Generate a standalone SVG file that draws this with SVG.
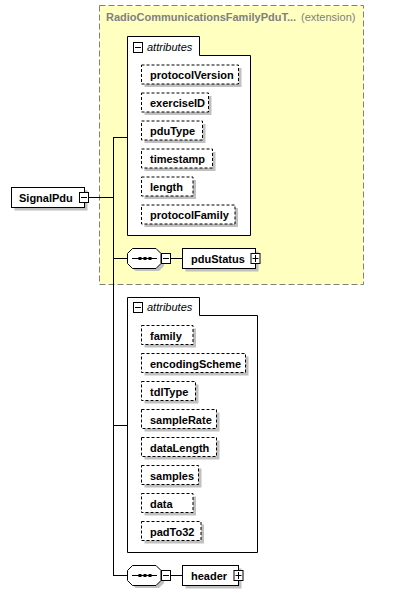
<svg xmlns="http://www.w3.org/2000/svg" width="405" height="595" viewBox="0 0 405 595">
<defs>
<style>
.lbl{font-family:"Liberation Sans",Arial,sans-serif;font-size:11px;font-weight:bold;fill:#000}
.it{font-family:"Liberation Sans",Arial,sans-serif;font-size:11px;font-style:italic;fill:#000}
.ttl{font-family:"Liberation Sans",Arial,sans-serif;font-size:11px;font-weight:bold;fill:#808080}
.ext{font-family:"Liberation Sans",Arial,sans-serif;font-size:11px;fill:#808080}
.att{fill:#fff;stroke:#000;stroke-width:1;stroke-dasharray:3,2}
.box{fill:#fff;stroke:#000;stroke-width:1}
.sh{fill:#c0c0c0}
.ln{stroke:#000;stroke-width:1;fill:none}
</style>
<g id="minus"><rect x="0.5" y="0.5" width="9" height="10" fill="#fff" stroke="#000"/><line x1="2" y1="5.5" x2="8" y2="5.5" stroke="#000"/></g>
<g id="plus"><rect x="0.5" y="0.5" width="9" height="10" fill="#fff" stroke="#000"/><line x1="2" y1="5.5" x2="8" y2="5.5" stroke="#000"/><line x1="5" y1="2" x2="5" y2="9" stroke="#000"/></g>
<g id="seq">
<polygon points="8,3 31.5,3 36.5,8 36.5,18 31.5,23 8,23 3,18 3,8" class="sh"/>
<polygon points="5,0.5 28.5,0.5 33.5,5.5 33.5,15.5 28.5,20.5 5,20.5 0,15.5 0,5.5" class="box"/>
<line x1="4.5" y1="10.5" x2="29.5" y2="10.5" stroke="#000"/>
<rect x="11" y="9" width="3" height="3" fill="#000"/><rect x="16" y="9" width="3" height="3" fill="#000"/><rect x="21" y="9" width="3" height="3" fill="#000"/>
</g>
</defs>
<rect width="405" height="595" fill="#fff"/>

<g id="extension">
<rect x="99.5" y="5.5" width="264" height="279" fill="#ffffc0" stroke="#808080" stroke-dasharray="6,3"/>
<text x="106" y="21" class="ttl">RadioCommunicationsFamilyPduT...</text>
<text x="301" y="21" class="ext">(extension)</text>
</g>

<g id="connectors">
<line x1="88.5" y1="197.5" x2="113.5" y2="197.5" class="ln"/>
<line x1="113.5" y1="137" x2="113.5" y2="576" class="ln"/>
<line x1="113" y1="137.5" x2="127.5" y2="137.5" class="ln"/>
<line x1="113" y1="258.5" x2="127.5" y2="258.5" class="ln"/>
<line x1="113" y1="425.5" x2="127.5" y2="425.5" class="ln"/>
<line x1="113" y1="575.5" x2="127.5" y2="575.5" class="ln"/>
<line x1="171" y1="258.5" x2="182.5" y2="258.5" class="ln"/>
<line x1="171" y1="575.5" x2="182.5" y2="575.5" class="ln"/>
</g>

<g id="SignalPdu">
<rect x="14.5" y="190.5" width="73" height="20" class="sh"/>
<rect x="11.5" y="187.5" width="73" height="20" class="box"/>
<text x="19" y="202" class="lbl">SignalPdu</text>
<use href="#minus" x="79" y="192"/>
</g>

<g id="attributes1">
<path d="M127.5,36.5 H199.5 V55.5 H250.5 V235.5 H127.5 Z" class="box"/>
<use href="#minus" x="133" y="42"/>
<text x="147" y="51" class="it">attributes</text>
</g>

<g id="protocolVersion"><rect x="144.5" y="68" width="97" height="19" class="sh"/><rect x="141.5" y="65" width="97" height="19" class="att"/><text x="150" y="79" class="lbl">protocolVersion</text></g>
<g id="exerciseID"><rect x="144.5" y="96" width="67" height="19" class="sh"/><rect x="141.5" y="93" width="67" height="19" class="att"/><text x="150" y="107" class="lbl">exerciseID</text></g>
<g id="pduType"><rect x="144.5" y="124" width="61" height="19" class="sh"/><rect x="141.5" y="121" width="61" height="19" class="att"/><text x="150" y="135" class="lbl">pduType</text></g>
<g id="timestamp"><rect x="144.5" y="152" width="71" height="19" class="sh"/><rect x="141.5" y="149" width="71" height="19" class="att"/><text x="150" y="163" class="lbl">timestamp</text></g>
<g id="length"><rect x="144.5" y="180" width="51.5" height="19" class="sh"/><rect x="141.5" y="177" width="51.5" height="19" class="att"/><text x="150" y="191" class="lbl">length</text></g>
<g id="protocolFamily"><rect x="144.5" y="208" width="93.5" height="19" class="sh"/><rect x="141.5" y="205" width="93.5" height="19" class="att"/><text x="150" y="219" class="lbl">protocolFamily</text></g>

<g id="sequence1">
<use href="#seq" x="127.5" y="248"/>
<use href="#minus" x="161" y="253"/>
</g>

<g id="pduStatus">
<rect x="185.5" y="251.5" width="73" height="20" class="sh"/>
<rect x="182.5" y="248.5" width="73" height="20" class="box"/>
<text x="191" y="263" class="lbl">pduStatus</text>
<use href="#plus" x="250.5" y="253"/>
</g>

<g id="attributes2">
<path d="M127.5,297.5 H199.5 V315.5 H257.5 V552.5 H127.5 Z" class="box"/>
<use href="#minus" x="133" y="302"/>
<text x="147" y="311" class="it">attributes</text>
</g>

<g id="family"><rect x="144.5" y="328.5" width="51.5" height="19" class="sh"/><rect x="141.5" y="325.5" width="51.5" height="19" class="att"/><text x="150" y="339.5" class="lbl">family</text></g>
<g id="encodingScheme"><rect x="144.5" y="356.5" width="104" height="19" class="sh"/><rect x="141.5" y="353.5" width="104" height="19" class="att"/><text x="150" y="367.5" class="lbl">encodingScheme</text></g>
<g id="tdlType"><rect x="144.5" y="384.5" width="54" height="19" class="sh"/><rect x="141.5" y="381.5" width="54" height="19" class="att"/><text x="150" y="395.5" class="lbl">tdlType</text></g>
<g id="sampleRate"><rect x="144.5" y="412.5" width="75" height="19" class="sh"/><rect x="141.5" y="409.5" width="75" height="19" class="att"/><text x="150" y="423.5" class="lbl">sampleRate</text></g>
<g id="dataLength"><rect x="144.5" y="440.5" width="75" height="19" class="sh"/><rect x="141.5" y="437.5" width="75" height="19" class="att"/><text x="150" y="451.5" class="lbl">dataLength</text></g>
<g id="samples"><rect x="144.5" y="468.5" width="57" height="19" class="sh"/><rect x="141.5" y="465.5" width="57" height="19" class="att"/><text x="150" y="479.5" class="lbl">samples</text></g>
<g id="data"><rect x="144.5" y="496.5" width="51.5" height="19" class="sh"/><rect x="141.5" y="493.5" width="51.5" height="19" class="att"/><text x="150" y="507.5" class="lbl">data</text></g>
<g id="padTo32"><rect x="144.5" y="524.5" width="59.5" height="19" class="sh"/><rect x="141.5" y="521.5" width="59.5" height="19" class="att"/><text x="150" y="535.5" class="lbl">padTo32</text></g>

<g id="sequence2">
<use href="#seq" x="127.5" y="565"/>
<use href="#minus" x="161" y="570"/>
</g>

<g id="header">
<rect x="185.5" y="568.5" width="56" height="20" class="sh"/>
<rect x="182.5" y="565.5" width="56" height="20" class="box"/>
<text x="191" y="580" class="lbl">header</text>
<use href="#plus" x="233.5" y="570"/>
</g>
</svg>
